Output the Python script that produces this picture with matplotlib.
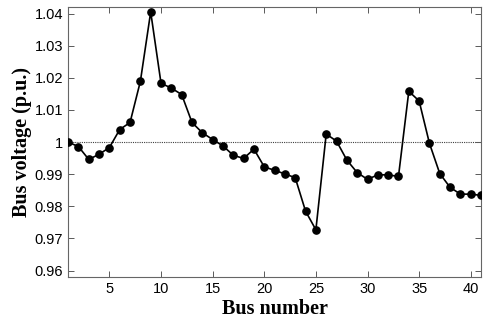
import numpy as np
import matplotlib
matplotlib.use("Agg")
import matplotlib.pyplot as plt
from matplotlib.ticker import FuncFormatter

# bus voltage profile
bus = np.arange(1, 42)
voltage = [1.0000, 0.9986, 0.9946, 0.9962, 0.9983, 1.0039, 1.0061, 1.0189, 1.0405, 1.0183,
           1.0168, 1.0148, 1.0061, 1.0029, 1.0008, 0.9988, 0.9959, 0.9949, 0.9978, 0.9923,
           0.9912, 0.9901, 0.9889, 0.9785, 0.9727, 1.0025, 1.0003, 0.9944, 0.9905, 0.9884,
           0.9898, 0.9898, 0.9893, 1.0158, 1.0128, 0.9996, 0.9902, 0.9859, 0.9838, 0.9838,
           0.9834]
xticks = [5, 10, 15, 20, 25, 30, 35, 40]
yticks = [0.96, 0.97, 0.98, 0.99, 1.0, 1.01, 1.02, 1.03, 1.04]

fig = plt.figure(figsize=(4.83, 3.24), dpi=100)
ax = fig.add_axes([0.141, 0.145, 0.855, 0.833])

ax.axhline(1.0, color="0.25", lw=0.8, ls=(0, (1, 1)), zorder=1)
ax.plot(bus, voltage, color="black", lw=1.2, marker="o", ms=5.2,
        markerfacecolor="black", markeredgecolor="black", zorder=3)

ax.set_xlim(1, 41)
ax.set_ylim(0.958, 1.042)
ax.set_xticks(xticks)
ax.set_yticks(yticks)
ax.yaxis.set_major_formatter(FuncFormatter(lambda v, p: "%g" % round(v, 2)))

ax.tick_params(direction="in", top=True, right=True, length=4, width=0.7,
               colors="0.35", labelcolor="black", labelsize=10.5)
for lab in ax.get_xticklabels() + ax.get_yticklabels():
    lab.set_family("Liberation Sans")
for s in ax.spines.values():
    s.set_color("0.4")
    s.set_linewidth(0.8)

ax.set_xlabel("Bus number", fontfamily="Liberation Serif", fontweight="bold",
              fontsize=14.5, labelpad=2)
ax.set_ylabel("Bus voltage (p.u.)", fontfamily="Liberation Serif", fontweight="bold",
              fontsize=14.5, labelpad=2)

fig.savefig("out.png", dpi=100)
